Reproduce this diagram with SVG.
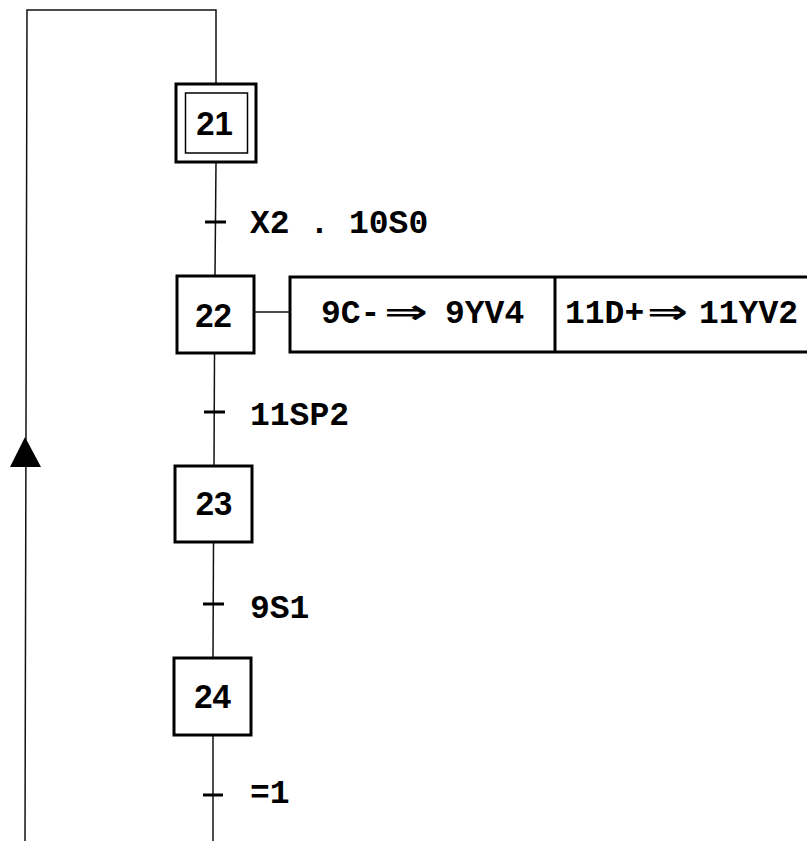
<svg xmlns="http://www.w3.org/2000/svg" width="807" height="841" viewBox="0 0 807 841">
<style>
.step{fill:#fff;stroke:#000;stroke-width:3}
.inner{fill:none;stroke:#000;stroke-width:1.5}
.lbl{font-family:"Liberation Sans",Arial,sans-serif;font-weight:bold;font-size:33px;fill:#000;text-anchor:middle}
.cond{font-family:"Liberation Mono","Courier New",monospace;font-weight:bold;font-size:33px;fill:#000}
.act{font-family:"Liberation Mono","Courier New",monospace;font-weight:bold;font-size:33px;fill:#000}
.arr{font-family:"DejaVu Sans",sans-serif;font-weight:bold;font-size:33px;fill:#000}
.ln{fill:none;stroke:#111;stroke-width:1.5}
.tick{stroke:#000;stroke-width:3}
</style>
<rect width="807" height="841" fill="#fff"/>
<g id="connectors">
<path class="ln" d="M216,83 L216,10 L27,10 L25,841"/>
<polygon points="25,437 10,467 41,467" fill="#000"/>
<path class="ln" d="M216,162 L215,275"/>
<path class="ln" d="M214.5,353 L214,465"/>
<path class="ln" d="M213.5,542 L213,657"/>
<path class="ln" d="M213,735 L213,841"/>
<path class="ln" d="M254,312 L290,312"/>
<line class="tick" x1="205" y1="222" x2="226" y2="222"/>
<line class="tick" x1="204" y1="412" x2="225" y2="412"/>
<line class="tick" x1="203" y1="604" x2="224" y2="604"/>
<line class="tick" x1="203" y1="795" x2="223" y2="795"/>
</g>
<g id="t1"><text class="cond" x="250" y="233" xml:space="preserve">X2 . 10S0</text></g>
<g id="t2"><text class="cond" x="250" y="425">11SP2</text></g>
<g id="t3"><text class="cond" x="250" y="618">9S1</text></g>
<g id="t4"><text class="cond" x="250" y="803">=1</text></g>
<g id="step21">
<rect class="step" x="176" y="84" width="80" height="78"/>
<rect class="inner" x="185.5" y="93" width="62" height="60"/>
<text class="lbl" x="214.5" y="135">21</text>
</g>
<g id="step22">
<rect class="step" x="177" y="276" width="77" height="77"/>
<text class="lbl" x="213.5" y="327">22</text>
</g>
<g id="step23">
<rect class="step" x="175" y="466" width="77" height="76"/>
<text class="lbl" x="214" y="515">23</text>
</g>
<g id="step24">
<rect class="step" x="174" y="658" width="77" height="77"/>
<text class="lbl" x="212.5" y="708">24</text>
</g>
<g id="actions22">
<rect class="step" x="290" y="277" width="540" height="75"/>
<line x1="555" y1="277" x2="555" y2="352" stroke="#000" stroke-width="3"/>
<text class="act" x="321" y="323">9C-</text>
<text class="arr" x="384" y="323" textLength="44" lengthAdjust="spacingAndGlyphs">⇒</text>
<text class="act" x="445" y="323">9YV4</text>
<text class="act" x="565" y="323">11D+</text>
<text class="arr" x="647" y="323" textLength="41" lengthAdjust="spacingAndGlyphs">⇒</text>
<text class="act" x="699" y="323">11YV2</text>
</g>
</svg>
